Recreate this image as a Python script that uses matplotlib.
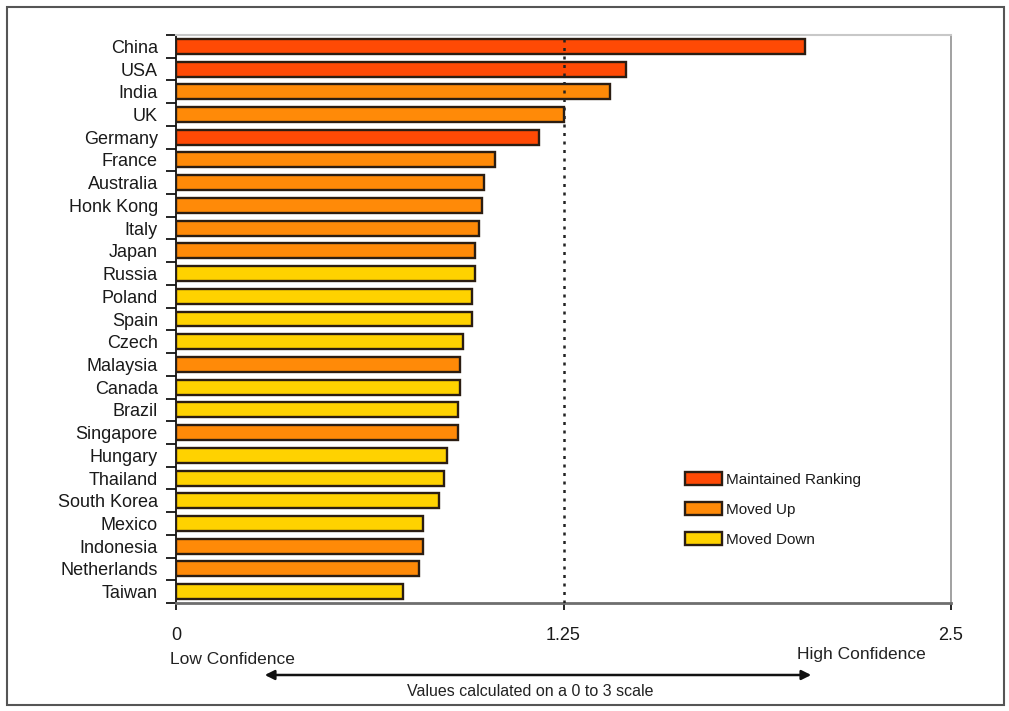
import numpy as np
import matplotlib.pyplot as plt
from matplotlib.patches import Patch, Rectangle, FancyArrowPatch

plt.rcParams['font.family'] = ['Liberation Sans', 'DejaVu Sans']

countries = ['China', 'USA', 'India', 'UK', 'Germany', 'France', 'Australia',
             'Honk Kong', 'Italy', 'Japan', 'Russia', 'Poland', 'Spain', 'Czech',
             'Malaysia', 'Canada', 'Brazil', 'Singapore', 'Hungary', 'Thailand',
             'South Korea', 'Mexico', 'Indonesia', 'Netherlands', 'Taiwan']
scores = [2.03, 1.45, 1.40, 1.25, 1.17, 1.03, 0.995, 0.988, 0.977, 0.966,
          0.966, 0.954, 0.955, 0.925, 0.916, 0.916, 0.910, 0.910, 0.874,
          0.865, 0.847, 0.796, 0.796, 0.784, 0.732]
# M = maintained ranking, U = moved up, D = moved down
status = ['M', 'M', 'U', 'U', 'M', 'U', 'U', 'U', 'U', 'U', 'D', 'D', 'D', 'D',
          'U', 'D', 'D', 'U', 'D', 'D', 'D', 'D', 'U', 'U', 'D']

status_names = {'M': 'Maintained Ranking', 'U': 'Moved Up', 'D': 'Moved Down'}
status_colors = {'M': '#ff4a05', 'U': '#ff8a08', 'D': '#ffd200'}
edge = '#2b1d12'

fig = plt.figure(figsize=(10.09, 7.11), dpi=100)
ax = fig.add_axes([176 / 1009, 1 - 603 / 711, 775 / 1009, 568 / 711])

y = np.arange(len(countries))
ax.barh(y, scores, height=0.66, color=[status_colors[s] for s in status],
        edgecolor=edge, linewidth=1.7, zorder=3)

ax.set_ylim(len(countries) - 0.5, -0.5)
ax.set_xlim(0, 2.5)
ax.set_yticks(y)
ax.set_yticklabels(countries, fontsize=13, color='#1a1a1a')
ax.tick_params(axis='y', which='major', length=0, pad=13)
ax.set_yticks(np.arange(-0.5, len(countries)), minor=True)
ax.tick_params(axis='y', which='minor', length=7, width=1.2, direction='out')

ax.set_xticks([0, 1.25, 2.5])
ax.set_xticklabels(['0', '1.25', '2.5'], fontsize=13, color='#1a1a1a')
ax.tick_params(axis='x', length=5, width=1.2, pad=12, direction='out')

ax.axvline(1.25, color='#222222', linestyle=(0, (1.2, 2.2)), linewidth=1.8, zorder=4)

ax.spines['left'].set_color('#111111')
ax.spines['left'].set_linewidth(1.3)
ax.spines['bottom'].set_color('#6e6e6e')
ax.spines['bottom'].set_linewidth(2)
ax.spines['top'].set_color('#c8c8c8')
ax.spines['top'].set_linewidth(1.5)
ax.spines['right'].set_color('#9a9a9a')
ax.spines['right'].set_linewidth(1.3)

handles = [Patch(facecolor=status_colors[k], edgecolor=edge, linewidth=1.7,
                 label=status_names[k]) for k in ['M', 'U', 'D']]
ax.legend(handles=handles, loc='upper left', bbox_to_anchor=(0.657, 0.23),
          borderaxespad=0, borderpad=0, frameon=False, fontsize=11,
          handlelength=2.4, handleheight=0.9, labelspacing=1.0,
          handletextpad=0.25, labelcolor='#1a1a1a')

# scale annotation under the axis
fig.text(170 / 1009, 1 - 660 / 711, 'Low Confidence', fontsize=12.5, color='#222222',
         va='center', ha='left')
fig.text(926 / 1009, 1 - 655 / 711, 'High Confidence', fontsize=12.5, color='#222222',
         va='center', ha='right')
fig.patches.append(FancyArrowPatch(
    (262 / 1009, 1 - 675 / 711), (814 / 1009, 1 - 675 / 711),
    transform=fig.transFigure, arrowstyle='<|-|>', mutation_scale=14,
    color='#111111', linewidth=1.8))
fig.text(530 / 1009, 1 - 691 / 711, 'Values calculated on a 0 to 3 scale',
         fontsize=11.5, color='#222222', ha='center', va='center')

# outer frame
fig.patches.append(Rectangle((7 / 1009, 6 / 711), 997 / 1009, 698 / 711,
                             transform=fig.transFigure, fill=False,
                             edgecolor='#555555', linewidth=1.5))

fig.savefig('out.png', dpi=100)
